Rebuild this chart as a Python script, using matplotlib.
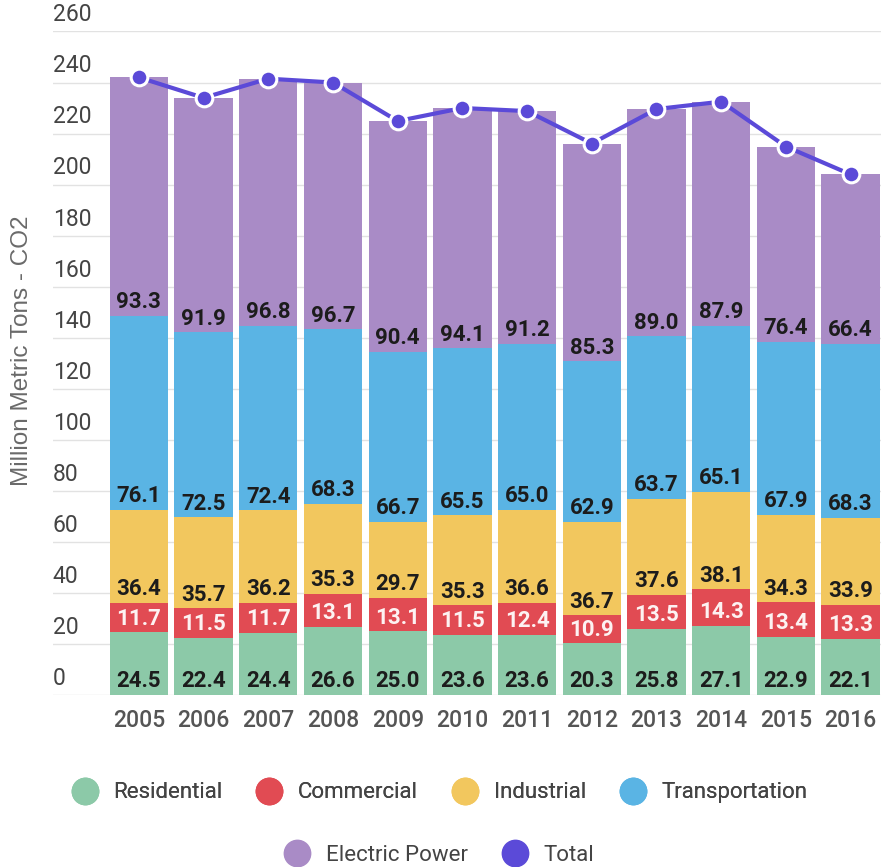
import numpy as np
import matplotlib
matplotlib.use("Agg")
import matplotlib.pyplot as plt
from matplotlib.lines import Line2D

# data
years = ["2005", "2006", "2007", "2008", "2009", "2010",
         "2011", "2012", "2013", "2014", "2015", "2016"]
residential = [24.5, 22.4, 24.4, 26.6, 25.0, 23.6, 23.6, 20.3, 25.8, 27.1, 22.9, 22.1]
commercial = [11.7, 11.5, 11.7, 13.1, 13.1, 11.5, 12.4, 10.9, 13.5, 14.3, 13.4, 13.3]
industrial = [36.4, 35.7, 36.2, 35.3, 29.7, 35.3, 36.6, 36.7, 37.6, 38.1, 34.3, 33.9]
transportation = [76.1, 72.5, 72.4, 68.3, 66.7, 65.5, 65.0, 62.9, 63.7, 65.1, 67.9, 68.3]
electric_power = [93.3, 91.9, 96.8, 96.7, 90.4, 94.1, 91.2, 85.3, 89.0, 87.9, 76.4, 66.4]

series = [
    ("Residential", residential, "#8CC9A8", "#1c1c1c"),
    ("Commercial", commercial, "#E14B53", "#fdf2f2"),
    ("Industrial", industrial, "#F2C75E", "#1c1c1c"),
    ("Transportation", transportation, "#5AB4E4", "#1c1c1c"),
    ("Electric Power", electric_power, "#A98BC6", "#1c1c1c"),
]
total_color = "#5B4AD8"

plt.rcParams["font.family"] = ["Roboto", "DejaVu Sans"]

fig = plt.figure(figsize=(8.81, 8.67), dpi=100)
ax = fig.add_axes([0.060, 0.1984, 0.940, 0.7653])

x = np.arange(len(years))
bottom = np.zeros(len(years))
for name, vals, color, txt in series:
    vals = np.array(vals)
    ax.bar(x, vals, bottom=bottom, width=0.9, color=color, zorder=2)
    for xi, b, v in zip(x, bottom, vals):
        ax.text(xi, b + 3.0, f"{v:.1f}", ha="center", va="baseline",
                fontsize=16, fontweight="bold", color=txt, zorder=4)
    bottom = bottom + vals

totals = bottom
ax.plot(x, totals, color=total_color, lw=3, marker="o", markersize=12,
        markerfacecolor=total_color, markeredgecolor="white",
        markeredgewidth=2.2, zorder=5)

ax.set_xlim(-1.33, 11.47)
ax.set_ylim(0, 260)
yticks = np.arange(0, 261, 20)
ax.set_yticks(yticks)
ax.set_yticklabels([])
ax.tick_params(axis="y", length=0)
ax.grid(axis="y", color="#e2e2e2", lw=1)
ax.set_axisbelow(True)
for t in yticks:
    ax.text(0.0, t + 2.0, str(t), transform=ax.get_yaxis_transform(),
            ha="left", va="bottom", fontsize=16.5, color="#444444")

ax.set_xticks(x)
ax.set_xticklabels(years, fontsize=16.5, color="#555555", fontweight="medium")
ax.tick_params(axis="x", length=0, pad=10)
for s in ax.spines.values():
    s.set_visible(False)

fig.text(0.025, 0.596, "Million Metric Tons - CO2", rotation=90,
         ha="center", va="center", fontsize=17.5, color="#6a6a6a",
         family=["Liberation Sans", "DejaVu Sans"])

def handle(c):
    return Line2D([], [], ls="none", marker="o", markersize=19,
                  markerfacecolor=c, markeredgecolor=c)

row1 = series[:4]
leg1 = fig.legend([handle(s[2]) for s in row1], [s[0] for s in row1],
                  loc="center", bbox_to_anchor=(0.5, 0.0854), ncol=4,
                  frameon=False, fontsize=16, handlelength=1.0,
                  handletextpad=0.8, columnspacing=1.6, labelcolor="#444444")
fig.add_artist(leg1)
fig.legend([handle(series[4][2]), handle(total_color)],
           [series[4][0], "Total"], loc="center",
           bbox_to_anchor=(0.5, 0.0138), ncol=2, frameon=False,
           fontsize=16, handlelength=1.0, handletextpad=0.8,
           columnspacing=1.6, labelcolor="#444444")

fig.savefig("out.png", dpi=100)
